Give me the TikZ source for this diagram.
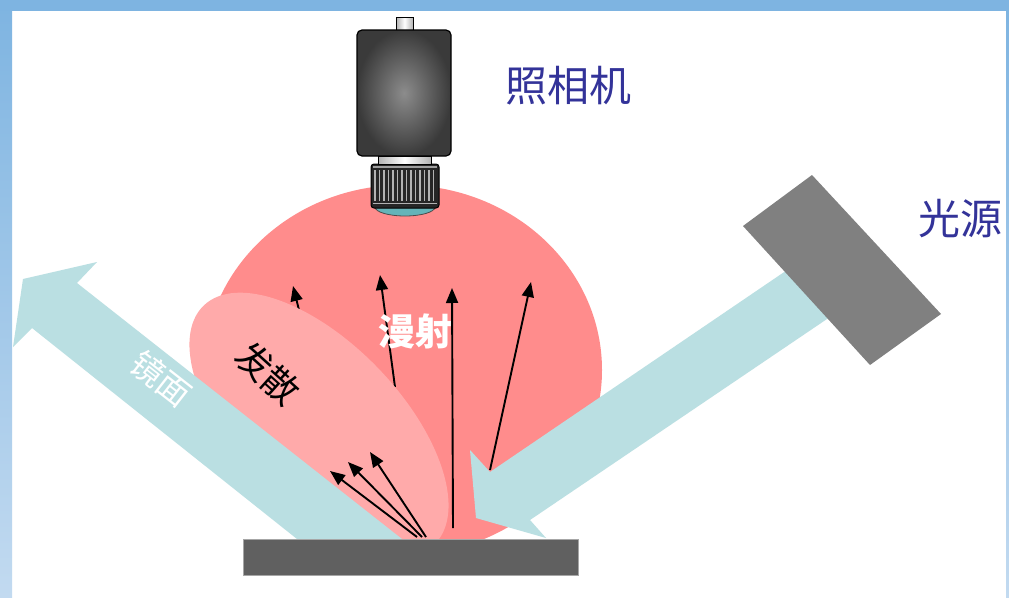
\documentclass[tikz,border=0pt]{standalone}
\usepackage{fontspec}
\newfontfamily\cjk{Noto Sans CJK SC}
\usetikzlibrary{arrows.meta}
\definecolor{framebl}{RGB}{126,180,225}
\definecolor{framelt}{RGB}{194,218,240}
\definecolor{diffpink}{RGB}{255,140,140}
\definecolor{scatpink}{RGB}{255,170,170}
\definecolor{beam}{RGB}{186,223,226}
\definecolor{labelblue}{RGB}{51,51,153}
\definecolor{plate}{RGB}{96,96,96}
\definecolor{lamp}{RGB}{128,128,128}
\definecolor{lensglass}{RGB}{100,180,185}
\definecolor{bodyin}{RGB}{140,140,140}
\definecolor{bodyout}{RGB}{58,58,58}
\begin{document}
\begin{tikzpicture}[x=1pt,y=-1pt,
  ray/.style={line width=1.9pt,-{Triangle[length=15pt,width=12pt]}},
  beamshape/.style={fill=beam,draw=none},
  lbl/.style={font=\cjk\fontsize{42}{42}\selectfont,text=labelblue,inner sep=0pt},
]
\useasboundingbox (0,0) rectangle (1009,597);
\fill[white] (0,0) rectangle (1009,597);

% slide frame
\shade[top color=framebl,bottom color=framelt] (0,0) rectangle (12,597);
\shade[top color=framebl,bottom color=framelt] (1006,0) rectangle (1009,597);
\fill[framebl] (0,0) rectangle (1009,11);

% diffuse lobe
\fill[diffpink] (403,370) ellipse [x radius=199,y radius=185];

% rays hidden in part by the scatter lobe
\coordinate (da1) at (395,387); \coordinate (db1) at (380,275);
\coordinate (dd1) at (301,318); \coordinate (dd2) at (293,286);
\draw[ray] (da1) -- (db1);
\draw[ray] (dd1) -- (dd2);

% scatter lobe
\fill[scatpink,rotate around={-46:(319,425)}] (319,425) ellipse [x radius=166,y radius=82];

% reflected (mirror) beam
\fill[beamshape] (297,539) -- (32,328) -- (13,347) -- (23,279) -- (97,262)
  -- (77,283) -- (402,539) -- cycle;

% incident beam
\fill[beamshape] (821,247) -- (490,472) -- (470,450) -- (476,518) -- (546,538)
  -- (530,520) -- (861,296) -- cycle;

% remaining rays
\coordinate (db0) at (453,528); \coordinate (db2) at (452,288);
\coordinate (dc0) at (490,470); \coordinate (dc2) at (531,282);
\coordinate (s1) at (417,537); \coordinate (t1) at (330,471);
\coordinate (s2) at (422,537); \coordinate (t2) at (348,462);
\coordinate (s3) at (426,537); \coordinate (t3) at (370,452);
\draw[ray] (db0) -- (db2);
\draw[ray] (dc0) -- (dc2);
\draw[ray] (s1) -- (t1);
\draw[ray] (s2) -- (t2);
\draw[ray] (s3) -- (t3);

% surface
\filldraw[fill=plate,draw=gray!70,line width=0.8pt] (243,539) rectangle (578,575);

% light source
\fill[lamp] (812,175) -- (941,314) -- (870,365) -- (743,226) -- cycle;

% camera
\filldraw[fill=lensglass,draw=black!70,line width=0.8pt]
  (375,207) arc[start angle=180,end angle=0,x radius=30,y radius=9] -- cycle;
\filldraw[fill=black!85,draw=black,line width=1pt,rounded corners=3pt] (371,164) rectangle (439,208);
\foreach \x in {375,379.5,...,436}
  \draw[gray!60,line width=1.3pt] (\x,170) -- (\x,201);
\draw[gray!75,line width=1.2pt] (373,167) -- (437,167);
\draw[gray!60,line width=1pt] (373,203.5) -- (437,203.5);
\shadedraw[left color=gray!60,right color=gray!60,middle color=white,draw=black,line width=0.8pt]
  (378,156) rectangle (431,164);
\shadedraw[left color=gray!60,right color=gray!60,middle color=white,draw=black,line width=0.8pt]
  (396,17) rectangle (413,31);
\shadedraw[inner color=bodyin,outer color=bodyout,draw=black,line width=1.2pt,rounded corners=5pt]
  (357,30) rectangle (451,156);

% labels
\node[lbl] (camlabel) at (568,86) {照相机};
\node[lbl] (lamplabel) at (960,219) {光源};
\node[font=\cjk\bfseries\fontsize{37}{37}\selectfont,text=white,inner sep=0pt] (difflabel) at (415,331) {漫射};
\node[font=\cjk\fontsize{36}{36}\selectfont,rotate=-42,inner sep=0pt] (scatlabel) at (268,373) {发散};
\node[font=\cjk\fontsize{33}{33}\selectfont,text=white,rotate=-38,inner sep=0pt] (mirrorlabel) at (161,379) {镜面};
\end{tikzpicture}
\end{document}
